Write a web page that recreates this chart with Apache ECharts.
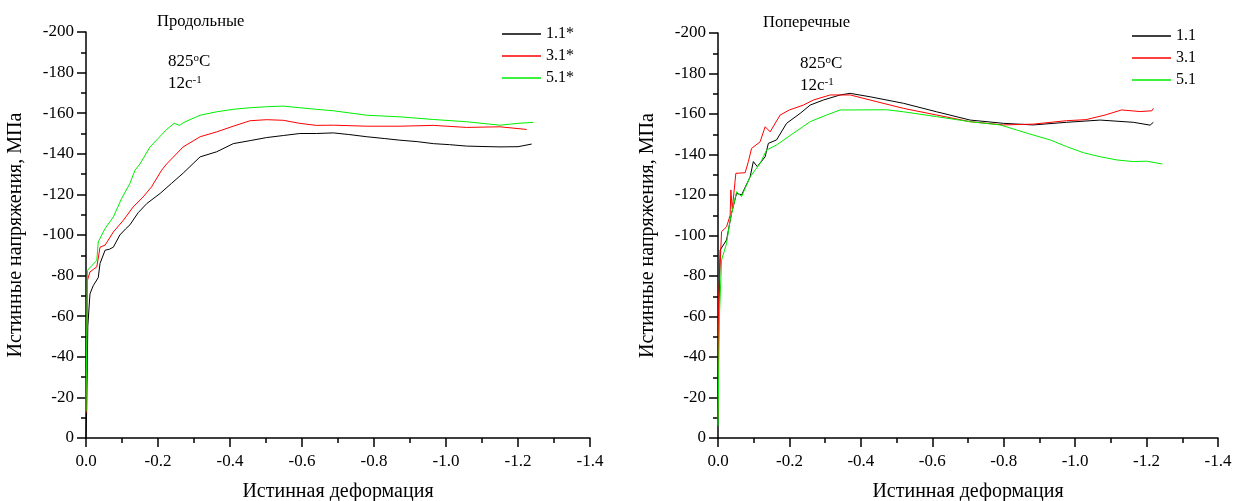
<!DOCTYPE html>
<html>
<head>
<meta charset="utf-8">
<script src="https://cdn.jsdelivr.net/npm/echarts@6/dist/echarts.min.js"></script>
<style>
  html, body { margin: 0; padding: 0; background: #fff; }
  #main { width: 1234px; height: 501px; }
</style>
</head>
<body>
<div id="main"></div>
<script>
// Продольные (left panel)
var lStrain11 = [0, -0.002, -0.005, -0.011, -0.02, -0.034, -0.039, -0.053, -0.065, -0.076, -0.094, -0.11, -0.122, -0.145, -0.169, -0.206, -0.238, -0.27, -0.317, -0.363, -0.409, -0.456, -0.502, -0.548, -0.594, -0.64, -0.687, -0.73, -0.78, -0.83, -0.872, -0.92, -0.965, -1.01, -1.057, -1.1, -1.15, -1.2, -1.238];
var lStress11 = [0, -15, -55, -71, -75, -79, -86, -92.5, -93, -94, -100, -103, -105, -111, -115.5, -120.5, -125.5, -130.5, -138.5, -141, -145, -146.5, -148, -149, -150, -150, -150.3, -149.5, -148.4, -147.5, -146.7, -146, -145, -144.5, -143.8, -143.6, -143.4, -143.5, -144.8];
var lStrain31 = [0, -0.002, -0.004, -0.011, -0.02, -0.03, -0.039, -0.053, -0.076, -0.104, -0.131, -0.159, -0.182, -0.21, -0.224, -0.27, -0.317, -0.363, -0.409, -0.456, -0.502, -0.548, -0.594, -0.64, -0.687, -0.78, -0.872, -0.965, -1.057, -1.15, -1.224];
var lStress31 = [-12, -40, -77.7, -81.8, -83, -84.3, -94, -95, -101.5, -107.3, -113.8, -118.8, -123.7, -131.9, -135, -143.4, -148.4, -150.8, -153.6, -156.3, -156.8, -156.5, -155, -154, -154.1, -153.6, -153.6, -154, -153, -153.3, -152];
var lStrain51 = [0, -0.002, -0.004, -0.03, -0.034, -0.053, -0.076, -0.099, -0.122, -0.136, -0.15, -0.178, -0.2, -0.224, -0.245, -0.26, -0.27, -0.317, -0.363, -0.409, -0.456, -0.502, -0.548, -0.594, -0.64, -0.687, -0.78, -0.872, -0.965, -1.057, -1.15, -1.2, -1.243];
var lStress51 = [-13, -50, -82.6, -87.5, -96.6, -103.2, -108.9, -118, -125.4, -131.9, -135, -143.4, -147.5, -152, -155, -154, -155.3, -159, -160.7, -161.9, -162.7, -163.2, -163.5, -162.7, -161.9, -161.2, -159, -158.2, -156.9, -155.8, -154.1, -155, -155.5];

// Поперечные (right panel)
var rStrain11 = [0, -0.002, -0.006, -0.024, -0.038, -0.052, -0.066, -0.09, -0.099, -0.11, -0.132, -0.141, -0.164, -0.192, -0.23, -0.258, -0.295, -0.342, -0.37, -0.426, -0.519, -0.612, -0.706, -0.799, -0.883, -0.976, -1.07, -1.163, -1.21, -1.219];
var rStress11 = [-10, -60, -92.8, -97.8, -111, -120.8, -120, -129, -136.5, -134, -138.9, -145.5, -147.2, -155.4, -160.3, -164.4, -166.9, -169.4, -170.2, -168.5, -165.3, -161.1, -157, -155.4, -154.6, -155.9, -157, -155.9, -154.5, -155.9];
var rStrain31 = [0, -0.002, -0.01, -0.024, -0.034, -0.036, -0.04, -0.05, -0.076, -0.085, -0.094, -0.118, -0.132, -0.146, -0.174, -0.2, -0.239, -0.267, -0.314, -0.37, -0.426, -0.519, -0.612, -0.706, -0.799, -0.883, -0.976, -1.03, -1.084, -1.13, -1.182, -1.215, -1.219];
var rStress31 = [-10, -70, -101.9, -104.3, -110, -122.5, -113, -130.7, -131, -136.5, -143, -146.3, -153.7, -151.2, -159.5, -162, -164.4, -166.9, -169.4, -169.4, -166.9, -162.8, -159.5, -156.2, -154.6, -155, -156.7, -157.2, -159.5, -162, -161.2, -161.6, -162.8];
var rStrain51 = [0, -0.004, -0.01, -0.024, -0.034, -0.052, -0.066, -0.09, -0.118, -0.136, -0.164, -0.211, -0.258, -0.304, -0.342, -0.379, -0.472, -0.519, -0.612, -0.706, -0.79, -0.836, -0.883, -0.93, -0.976, -1.023, -1.07, -1.117, -1.163, -1.2, -1.244];
var rStress51 = [-6, -60, -87.9, -96.1, -107.7, -121.6, -119.2, -129, -135.6, -142.2, -144.7, -150.5, -156.2, -159.5, -162, -162, -162.1, -161.1, -158.7, -156.2, -154.6, -152.1, -149.6, -147.2, -143.9, -140.9, -138.9, -137.3, -136.5, -136.7, -135.3];

var font = '"Liberation Serif", "Times New Roman", serif';

function pairs(xs, ys) {
  var out = [];
  for (var i = 0; i < xs.length; i++) out.push([xs[i], ys[i]]);
  return out;
}

function xAx(idx) {
  return {
    type: 'value', gridIndex: idx, min: -1.4, max: 0, interval: 0.2, inverse: true,
    name: 'Истинная деформация', nameLocation: 'middle', nameGap: 44,
    nameTextStyle: { fontFamily: font, fontSize: 20, color: '#000' },
    axisLine: { onZero: false, lineStyle: { color: '#000', width: 1.5 } },
    axisTick: { length: 9, lineStyle: { color: '#000', width: 1.5 } },
    minorTick: { show: true, splitNumber: 2, length: 5, lineStyle: { color: '#000', width: 1.5 } },
    splitLine: { show: false },
    axisLabel: { fontFamily: font, fontSize: 17, color: '#000', margin: 15,
      formatter: function (v) { return v.toFixed(1); } }
  };
}

function yAx(idx) {
  return {
    type: 'value', gridIndex: idx, min: -200, max: 0, interval: 20, inverse: true,
    name: 'Истинные напряжения, МПа', nameLocation: 'middle', nameGap: 60,
    nameTextStyle: { fontFamily: font, fontSize: 20, color: '#000' },
    axisLine: { show: true, onZero: false, lineStyle: { color: '#000', width: 1.5 } },
    axisTick: { show: true, length: 9, lineStyle: { color: '#000', width: 1.5 } },
    minorTick: { show: true, splitNumber: 2, length: 5, lineStyle: { color: '#000', width: 1.5 } },
    splitLine: { show: false },
    axisLabel: { fontFamily: font, fontSize: 17, color: '#000', margin: 12,
      formatter: function (v) { return String(v); } }
  };
}

function line(name, idx, data, color) {
  return {
    name: name, type: 'line', xAxisIndex: idx, yAxisIndex: idx,
    data: data, showSymbol: false, symbol: 'none', animation: false,
    lineStyle: { color: color, width: 1 }, itemStyle: { color: color }
  };
}

function legendAt(left, top, names) {
  return {
    orient: 'vertical', left: left, top: top, data: names, padding: 0,
    icon: 'rect', itemWidth: 39, itemHeight: 1.5, itemGap: 0,
    textStyle: { fontFamily: font, fontSize: 16, color: '#000', lineHeight: 22 }
  };
}

var noteRich = {
  t: { fontFamily: font, fontSize: 17, color: '#000' },
  s: { fontFamily: font, fontSize: 11, color: '#000', verticalAlign: 'top', padding: [0, 0, 7, 0] }
};

function note(x, y, txt) {
  return { type: 'text', left: x, top: y, style: { text: txt, rich: noteRich } };
}

var titleStyle = { fontFamily: font, fontSize: 16.5, fontWeight: 'normal', color: '#000' };

var myChart = echarts.init(document.getElementById('main'));
var option = {
  backgroundColor: '#fff',
  animation: false,
  grid: [
    { left: 86, top: 32, width: 504, height: 406, outerBoundsMode: 'none', containLabel: false },
    { left: 718, top: 33, width: 500, height: 405, outerBoundsMode: 'none', containLabel: false }
  ],
  xAxis: [xAx(0), xAx(1)],
  yAxis: [yAx(0), yAx(1)],
  title: [
    { text: 'Продольные', left: 157, top: 13, padding: 0, textStyle: titleStyle },
    { text: 'Поперечные', left: 763, top: 14, padding: 0, textStyle: titleStyle }
  ],
  legend: [
    legendAt(502, 23, ['1.1*', '3.1*', '5.1*']),
    legendAt(1132, 25, ['1.1', '3.1', '5.1'])
  ],
  graphic: [
    note(168, 53, '{t|825}{s|o}{t|C}'),
    note(168, 75, '{t|12c}{s|-1}'),
    note(800, 55, '{t|825}{s|o}{t|C}'),
    note(800, 77, '{t|12c}{s|-1}')
  ],
  series: [
    line('1.1*', 0, pairs(lStrain11, lStress11), '#000000'),
    line('3.1*', 0, pairs(lStrain31, lStress31), '#ff0000'),
    line('5.1*', 0, pairs(lStrain51, lStress51), '#00ee00'),
    line('1.1', 1, pairs(rStrain11, rStress11), '#000000'),
    line('3.1', 1, pairs(rStrain31, rStress31), '#ff0000'),
    line('5.1', 1, pairs(rStrain51, rStress51), '#00ee00')
  ]
};
myChart.setOption(option);
</script>
</body>
</html>
